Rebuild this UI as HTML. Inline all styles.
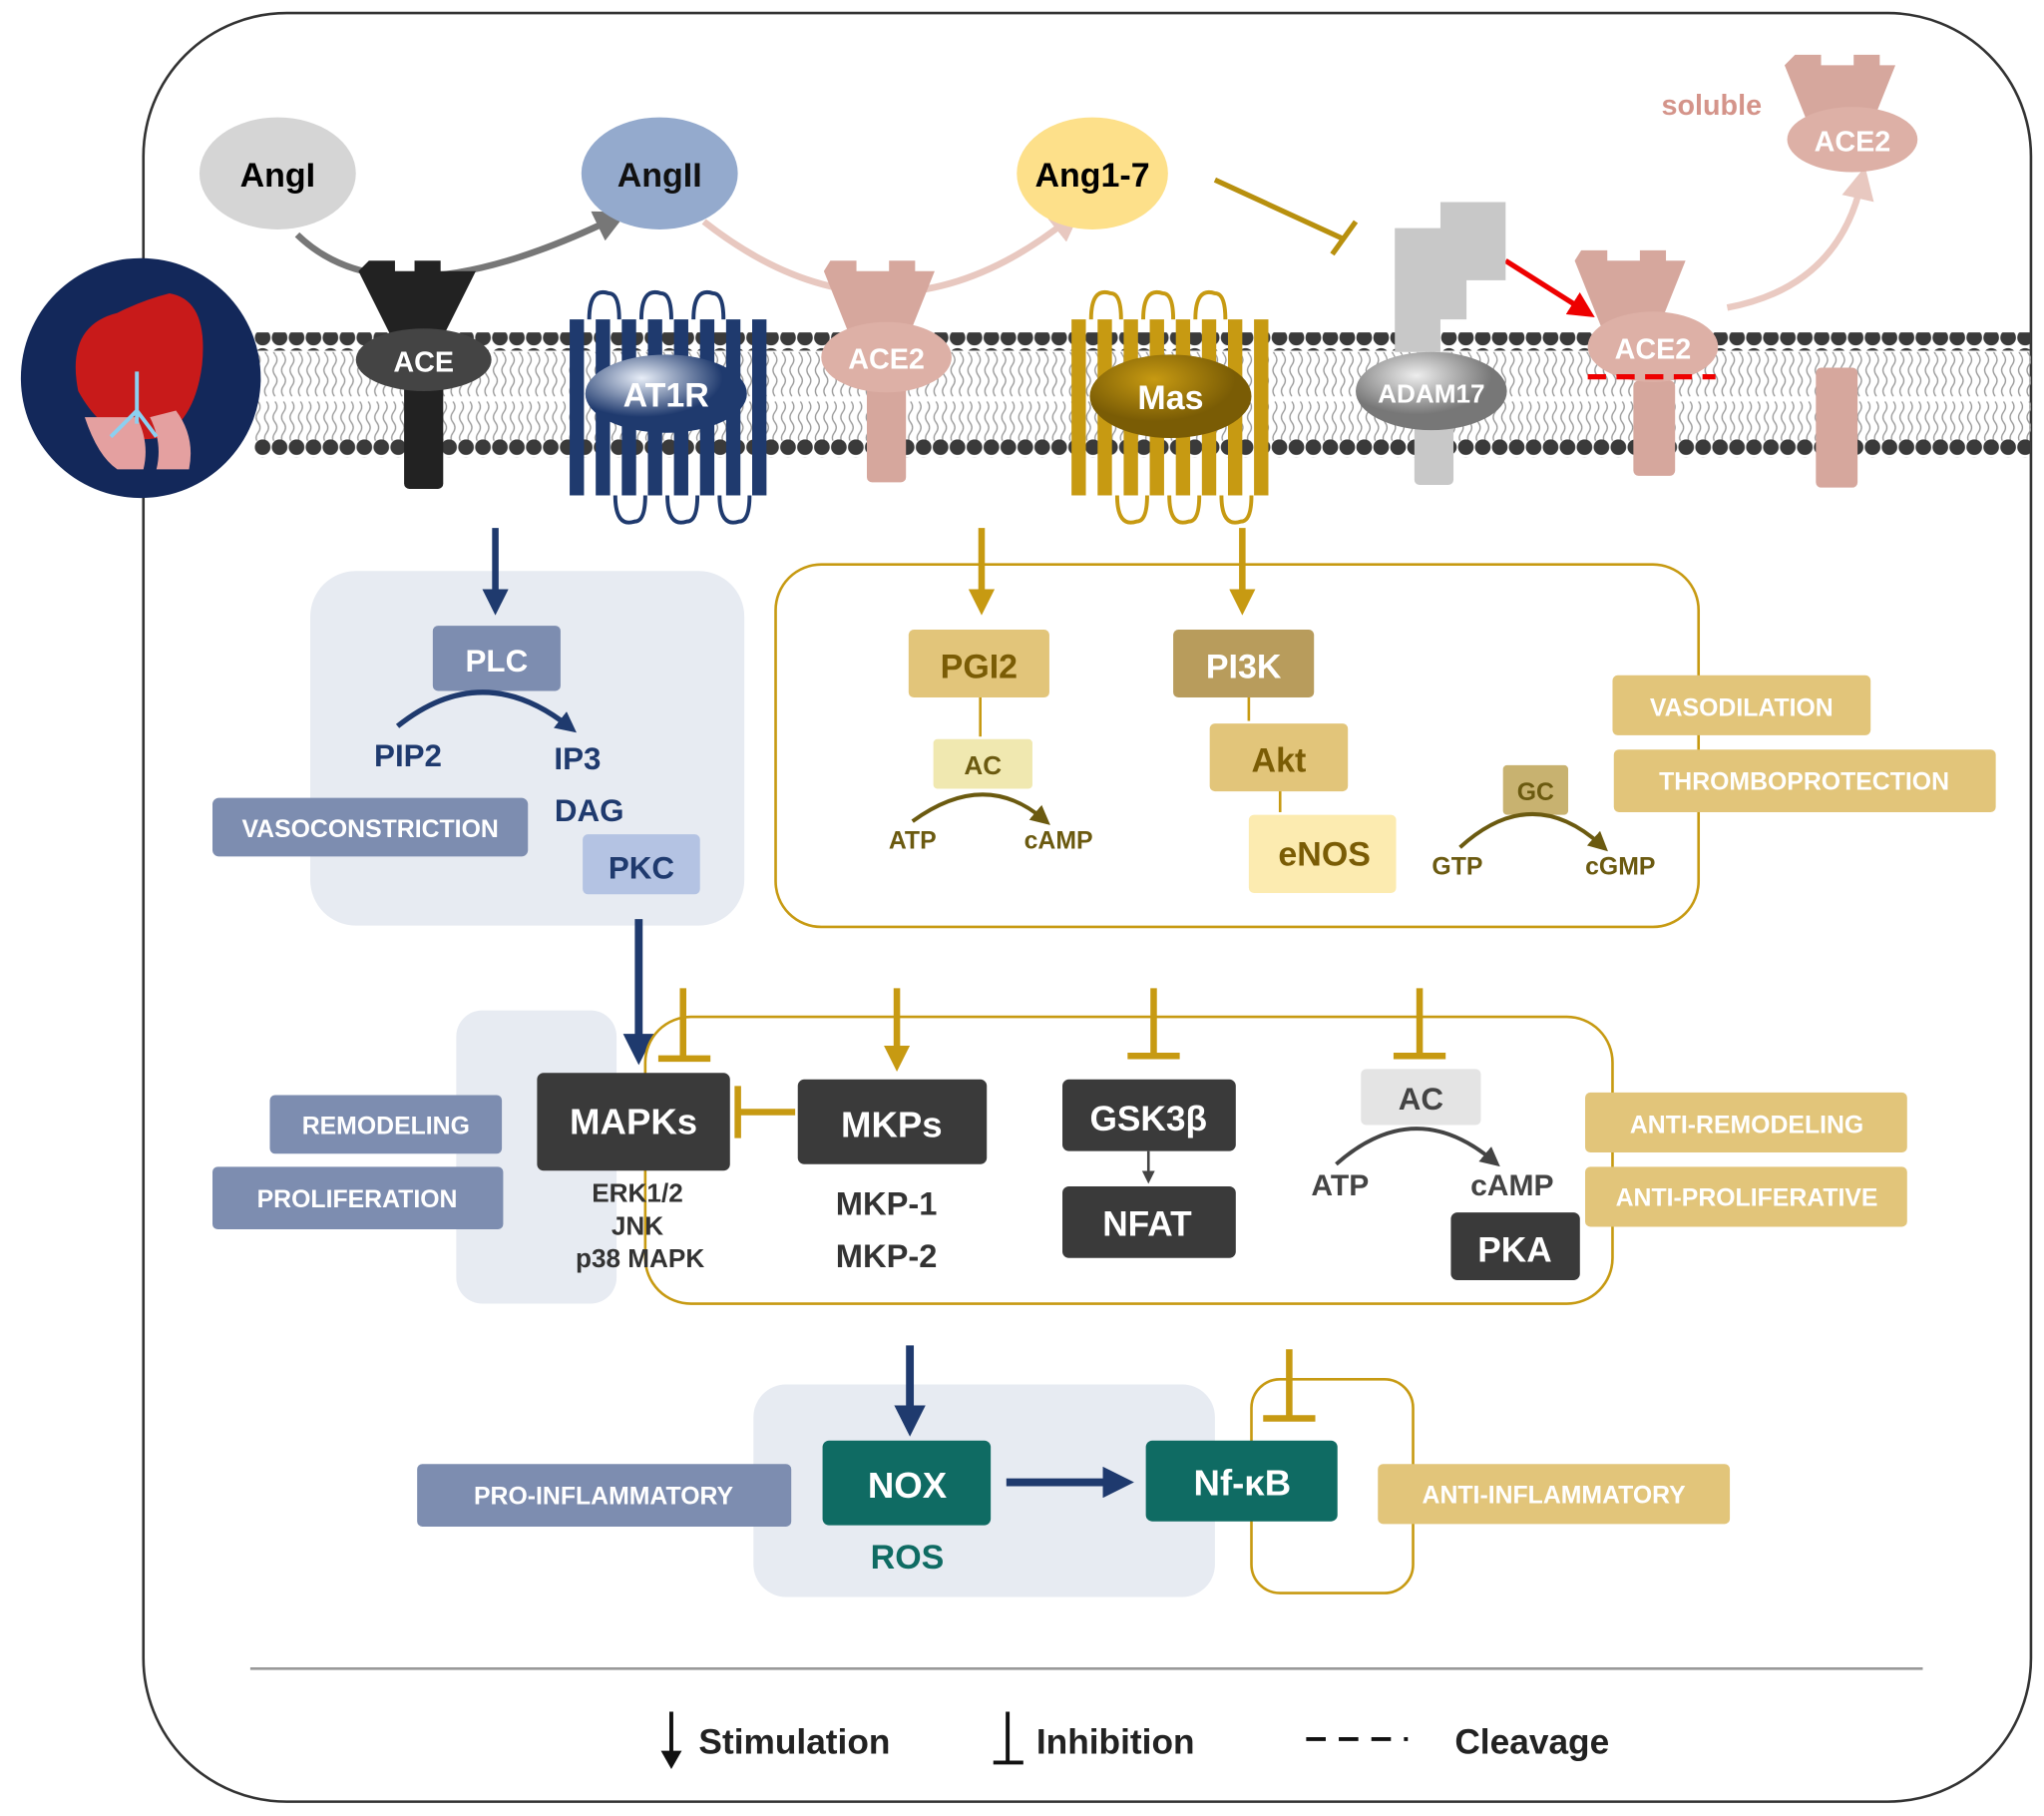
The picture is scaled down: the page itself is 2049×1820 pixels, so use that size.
<!DOCTYPE html>
<html><head><meta charset="utf-8"><style>
html,body{margin:0;padding:0;background:#fff}
svg{display:block}
text{font-family:"Liberation Sans",sans-serif;font-weight:bold}
</style></head><body>
<svg width="2049" height="1820" viewBox="0 0 1568 1393" preserveAspectRatio="none" xmlns="http://www.w3.org/2000/svg">
<defs>
<pattern id="bead" x="0" y="0" width="13" height="14" patternUnits="userSpaceOnUse"><circle cx="6.5" cy="7" r="6" fill="#3a3a3a"/></pattern>
<pattern id="tail" x="0" y="0" width="6.5" height="68" patternUnits="userSpaceOnUse"><path d="M3 0 q3 4 0 8 q-3 4 0 8 q3 4 0 8 q-3 4 0 8 M3 36 q3 4 0 8 q-3 4 0 8 q3 4 0 8 q-3 4 0 8" stroke="#999" stroke-width="1" fill="none"/></pattern>
<marker id="aN" markerWidth="4" markerHeight="4" refX="2" refY="2" orient="auto" markerUnits="strokeWidth"><path d="M0,0 L4,2 L0,4 z" fill="#1f3a6e"/></marker>
<marker id="aG" markerWidth="4" markerHeight="4" refX="2" refY="2" orient="auto" markerUnits="strokeWidth"><path d="M0,0 L4,2 L0,4 z" fill="#c79a12"/></marker>
<marker id="aGr" markerWidth="5" markerHeight="5" refX="2.5" refY="2.5" orient="auto" markerUnits="strokeWidth"><path d="M0,0 L5,2.5 L0,5 z" fill="#777"/></marker>
<marker id="aP" markerWidth="5" markerHeight="5" refX="2.5" refY="2.5" orient="auto" markerUnits="strokeWidth"><path d="M0,0 L5,2.5 L0,5 z" fill="#e8c8c0"/></marker>
<marker id="aR" markerWidth="5" markerHeight="5" refX="2.5" refY="2.5" orient="auto" markerUnits="strokeWidth"><path d="M0,0 L5,2.5 L0,5 z" fill="#e00"/></marker>
<marker id="aO" markerWidth="5" markerHeight="5" refX="2.5" refY="2.5" orient="auto" markerUnits="strokeWidth"><path d="M0,0 L5,2.5 L0,5 z" fill="#6b5a10"/></marker>
<marker id="aK" markerWidth="5" markerHeight="5" refX="2.5" refY="2.5" orient="auto" markerUnits="strokeWidth"><path d="M0,0 L5,2.5 L0,5 z" fill="#444"/></marker>
<radialGradient id="gAT" cx="0.35" cy="0.3"><stop offset="0" stop-color="#e8eef8"/><stop offset="1" stop-color="#1f3a6e"/></radialGradient>
<radialGradient id="gMas" cx="0.4" cy="0.3"><stop offset="0" stop-color="#c79a12"/><stop offset="1" stop-color="#7a5c05"/></radialGradient>
<radialGradient id="gAD" cx="0.4" cy="0.3"><stop offset="0" stop-color="#eee"/><stop offset="1" stop-color="#777"/></radialGradient>
</defs>
<rect width="1568" height="1393" fill="#fff"/>
<rect x="110" y="10" width="1448" height="1372" rx="110" fill="none" stroke="#333" stroke-width="2"/>
<rect x="195" y="255" width="1363" height="14" fill="url(#bead)"/>
<rect x="195" y="270" width="1363" height="68" fill="url(#tail)"/>
<rect x="195" y="337" width="1363" height="14" fill="url(#bead)"/>
<circle cx="108" cy="290" r="92" fill="#13285a"/>
<path d="M60 300 q-10 -50 30 -60 q20 -10 40 -15 q30 5 25 55 q-5 40 -30 55 q-40 10 -65 -35z" fill="#c81a1a"/>
<path d="M65 320 q10 30 25 40 l20 0 q5 -20 -5 -40z M115 320 q10 20 5 40 l25 0 q5 -25 -10 -45z" fill="#e4a0a0"/>
<path d="M105 285 v40 m0 -10 l-20 20 m20 -20 l15 20" stroke="#8cd0f0" stroke-width="3" fill="none"/>
<path d="M228 180 Q300 250 470 168" stroke="#777" stroke-width="5" fill="none" marker-end="url(#aGr)"/>
<path d="M540 170 Q680 280 820 168" stroke="#e8c8c0" stroke-width="5" fill="none" marker-end="url(#aP)"/>
<path d="M932 138 L1030 183 M1022 195 L1040 170" stroke="#b8900e" stroke-width="4" fill="none"/>
<path d="M1155 200 L1215 238" stroke="#e00" stroke-width="4" fill="none" marker-end="url(#aR)"/>
<path d="M1325 236 Q1410 220 1428 140" stroke="#eacac2" stroke-width="5" fill="none" marker-end="url(#aP)"/>
<ellipse cx="213" cy="133" rx="60" ry="43" fill="#d5d5d5"/><text x="213" y="143" font-size="26" text-anchor="middle">AngI</text>
<ellipse cx="506" cy="133" rx="60" ry="43" fill="#94aacd"/><text x="506" y="143" font-size="26" text-anchor="middle" fill="#111">AngII</text>
<ellipse cx="838" cy="133" rx="58" ry="43" fill="#fde08a"/><text x="838" y="143" font-size="26" text-anchor="middle">Ang1-7</text>
<text x="1313" y="88" font-size="22" fill="#d4948a" text-anchor="middle">soluble</text>
<path d="M283 200 h20 v8 h15 v-8 h20 v8 h27 l-25 50 h-40 l-25 -50 z" fill="#222"/>
<rect x="310" y="250" width="30" height="125" rx="4" fill="#222"/>
<ellipse cx="325" cy="276" rx="52" ry="24" fill="#444"/><text x="325" y="285" font-size="22" text-anchor="middle" fill="#fff">ACE</text>
<g fill="#1f3a6e">
<rect x="437" y="245" width="11" height="135"/><rect x="457" y="245" width="11" height="135"/><rect x="477" y="245" width="11" height="135"/><rect x="497" y="245" width="11" height="135"/><rect x="517" y="245" width="11" height="135"/><rect x="537" y="245" width="11" height="135"/><rect x="557" y="245" width="11" height="135"/><rect x="577" y="245" width="11" height="135"/>
</g>
<path d="M452 245 q0 -25 15 -20 q8 0 8 20 M492 245 q0 -25 15 -20 q8 0 8 20 M532 245 q0 -25 15 -20 q8 0 8 20 M472 380 q0 25 15 20 q8 0 8 -20 M512 380 q0 25 15 20 q8 0 8 -20 M552 380 q0 25 15 20 q8 0 8 -20" stroke="#1f3a6e" stroke-width="3" fill="none"/>
<ellipse cx="511" cy="302" rx="62" ry="30" fill="url(#gAT)"/><text x="511" y="312" font-size="26" text-anchor="middle" fill="#fff">AT1R</text>
<path d="M640 200 h20 v8 h25 v-8 h20 v8 h15 l-20 50 h-45 l-20 -50 z" fill="#d6a79d" transform="translate(-3,0)"/>
<rect x="665" y="250" width="30" height="120" rx="4" fill="#d6a79d"/>
<ellipse cx="680" cy="274" rx="50" ry="27" fill="#ddb0a6"/><text x="680" y="283" font-size="22" text-anchor="middle" fill="#fff">ACE2</text>
<g fill="#c79a12">
<rect x="822" y="245" width="11" height="135"/><rect x="842" y="245" width="11" height="135"/><rect x="862" y="245" width="11" height="135"/><rect x="882" y="245" width="11" height="135"/><rect x="902" y="245" width="11" height="135"/><rect x="922" y="245" width="11" height="135"/><rect x="942" y="245" width="11" height="135"/><rect x="962" y="245" width="11" height="135"/>
</g>
<path d="M837 245 q0 -25 15 -20 q8 0 8 20 M877 245 q0 -25 15 -20 q8 0 8 20 M917 245 q0 -25 15 -20 q8 0 8 20 M857 380 q0 25 15 20 q8 0 8 -20 M897 380 q0 25 15 20 q8 0 8 -20 M937 380 q0 25 15 20 q8 0 8 -20" stroke="#c79a12" stroke-width="3" fill="none"/>
<ellipse cx="898" cy="304" rx="62" ry="32" fill="url(#gMas)"/><text x="898" y="314" font-size="26" text-anchor="middle" fill="#fff">Mas</text>
<path d="M1070 175 h35 v-20 h50 v60 h-30 v30 h-20 v25 h-35 z" fill="#c8c8c8"/>
<rect x="1085" y="270" width="30" height="102" rx="4" fill="#c8c8c8"/>
<ellipse cx="1098" cy="300" rx="58" ry="30" fill="url(#gAD)"/><text x="1098" y="309" font-size="20" text-anchor="middle" fill="#fff">ADAM17</text>
<path d="M1225 192 h20 v8 h25 v-8 h20 v8 h15 l-20 50 h-45 l-20 -50 z" fill="#d6a79d" transform="translate(-12,0)"/>
<rect x="1253" y="292" width="32" height="73" rx="4" fill="#d6a79d"/>
<ellipse cx="1268" cy="266" rx="50" ry="27" fill="#ddb0a6"/><text x="1268" y="275" font-size="22" text-anchor="middle" fill="#fff">ACE2</text>
<path d="M1218 289 h98" stroke="#e00" stroke-width="4" stroke-dasharray="14,8"/>
<rect x="1393" y="282" width="32" height="92" rx="4" fill="#d6a79d"/>
<path d="M1380 45 h20 v8 h25 v-8 h20 v8 h12 l-20 50 h-45 l-20 -50 z" fill="#d6a79d" transform="translate(-3,-3)"/>
<ellipse cx="1421" cy="107" rx="50" ry="25" fill="#ddb0a6"/><text x="1421" y="116" font-size="22" text-anchor="middle" fill="#fff">ACE2</text>

<rect x="238" y="438" width="333" height="272" rx="35" fill="#e7ebf2"/>
<path d="M380 405 V462" stroke="#1f3a6e" stroke-width="5" marker-end="url(#aN)"/>
<rect x="332" y="480" width="98" height="50" rx="4" fill="#7d8db0"/><text x="381" y="515" font-size="24" text-anchor="middle" fill="#fff">PLC</text>
<path d="M305 557 Q370 505 436 557" stroke="#1f3a6e" stroke-width="4" fill="none" marker-end="url(#aN)"/>
<text x="313" y="588" font-size="24" fill="#1f3a6e" text-anchor="middle">PIP2</text>
<text x="443" y="590" font-size="24" fill="#1f3a6e" text-anchor="middle">IP3</text>
<text x="452" y="630" font-size="24" fill="#1f3a6e" text-anchor="middle">DAG</text>
<rect x="163" y="612" width="242" height="45" rx="5" fill="#7d8db0"/><text x="284" y="642" font-size="19" text-anchor="middle" fill="#fff">VASOCONSTRICTION</text>
<rect x="447" y="640" width="90" height="46" rx="4" fill="#b4c3e3"/><text x="492" y="674" font-size="24" text-anchor="middle" fill="#1f3a6e">PKC</text>
<path d="M490 705 V805" stroke="#1f3a6e" stroke-width="6" marker-end="url(#aN)"/>

<rect x="595" y="433" width="708" height="278" rx="35" fill="none" stroke="#c79a12" stroke-width="2"/>
<path d="M753 405 V462" stroke="#c79a12" stroke-width="5" marker-end="url(#aG)"/>
<path d="M953 405 V462" stroke="#c79a12" stroke-width="5" marker-end="url(#aG)"/>
<rect x="697" y="483" width="108" height="52" rx="4" fill="#e2c57a"/><text x="751" y="520" font-size="26" text-anchor="middle" fill="#7a5c05">PGI2</text>
<rect x="900" y="483" width="108" height="52" rx="4" fill="#b89c5c"/><text x="954" y="520" font-size="26" text-anchor="middle" fill="#fff">PI3K</text>
<path d="M752 535 V565" stroke="#c79a12" stroke-width="2"/>
<rect x="716" y="567" width="76" height="38" rx="3" fill="#f0e8b0"/><text x="754" y="594" font-size="20" text-anchor="middle" fill="#6b5a10">AC</text>
<path d="M700 630 Q755 590 800 628" stroke="#6b5a10" stroke-width="3" fill="none" marker-end="url(#aO)"/>
<text x="700" y="651" font-size="19" text-anchor="middle" fill="#6b5a10">ATP</text><text x="812" y="651" font-size="19" text-anchor="middle" fill="#6b5a10">cAMP</text>
<path d="M958 535 V553" stroke="#c79a12" stroke-width="2"/>
<rect x="928" y="555" width="106" height="52" rx="4" fill="#e2c57a"/><text x="981" y="592" font-size="26" text-anchor="middle" fill="#7a5c05">Akt</text>
<path d="M982 607 V623" stroke="#c79a12" stroke-width="2"/>
<rect x="958" y="625" width="113" height="60" rx="4" fill="#fcebb0"/><text x="1016" y="664" font-size="26" text-anchor="middle" fill="#7a5c05">eNOS</text>
<rect x="1153" y="587" width="50" height="38" rx="3" fill="#c8b270"/><text x="1178" y="614" font-size="19" text-anchor="middle" fill="#6b5a10">GC</text>
<path d="M1120 650 Q1175 600 1228 648" stroke="#6b5a10" stroke-width="3" fill="none" marker-end="url(#aO)"/>
<text x="1118" y="671" font-size="19" text-anchor="middle" fill="#6b5a10">GTP</text><text x="1243" y="671" font-size="19" text-anchor="middle" fill="#6b5a10">cGMP</text>
<rect x="1237" y="518" width="198" height="46" rx="4" fill="#e2c57a"/><text x="1336" y="549" font-size="19" text-anchor="middle" fill="#fff">VASODILATION</text>
<rect x="1238" y="575" width="293" height="48" rx="4" fill="#e2c57a"/><text x="1384" y="606" font-size="19" text-anchor="middle" fill="#fff">THROMBOPROTECTION</text>

<rect x="350" y="775" width="123" height="225" rx="20" fill="#e7ebf2"/>
<rect x="495" y="780" width="742" height="220" rx="35" fill="none" stroke="#c79a12" stroke-width="2"/>
<rect x="412" y="823" width="148" height="75" rx="5" fill="#3a3a3a"/><text x="486" y="870" font-size="28" text-anchor="middle" fill="#fff">MAPKs</text>
<text x="489" y="922" font-size="20" text-anchor="middle" fill="#333" font-weight="normal">ERK1/2</text>
<text x="489" y="947" font-size="20" text-anchor="middle" fill="#333" font-weight="normal">JNK</text>
<text x="491" y="972" font-size="20" text-anchor="middle" fill="#333" font-weight="normal">p38 MAPK</text>
<g stroke="#c79a12" stroke-width="5" fill="none">
<path d="M524 758 V812 M505 812 H545"/>
<path d="M885 758 V810 M865 810 H905"/>
<path d="M1089 758 V810 M1069 810 H1109"/>
<path d="M610 853 H566 M566 833 V873"/>
<path d="M989 1035 V1088 M969 1088 H1009"/>
</g>
<path d="M688 758 V812" stroke="#c79a12" stroke-width="5" marker-end="url(#aG)"/>
<rect x="612" y="828" width="145" height="65" rx="5" fill="#3a3a3a"/><text x="684" y="872" font-size="28" text-anchor="middle" fill="#fff">MKPs</text>
<text x="680" y="932" font-size="25" text-anchor="middle" fill="#333">MKP-1</text>
<text x="680" y="972" font-size="25" text-anchor="middle" fill="#333">MKP-2</text>
<rect x="815" y="828" width="133" height="55" rx="5" fill="#3a3a3a"/><text x="881" y="867" font-size="27" text-anchor="middle" fill="#fff">GSK3β</text>
<path d="M881 883 V903" stroke="#444" stroke-width="2" marker-end="url(#aK)"/>
<rect x="815" y="910" width="133" height="55" rx="5" fill="#3a3a3a"/><text x="880" y="948" font-size="27" text-anchor="middle" fill="#fff">NFAT</text>
<rect x="1044" y="820" width="92" height="43" rx="4" fill="#e4e4e4"/><text x="1090" y="851" font-size="24" text-anchor="middle" fill="#444">AC</text>
<path d="M1025 893 Q1085 840 1145 890" stroke="#444" stroke-width="3" fill="none" marker-end="url(#aK)"/>
<text x="1028" y="917" font-size="23" text-anchor="middle" fill="#444">ATP</text><text x="1160" y="917" font-size="23" text-anchor="middle" fill="#444">cAMP</text>
<rect x="1113" y="930" width="99" height="52" rx="5" fill="#3a3a3a"/><text x="1162" y="968" font-size="27" text-anchor="middle" fill="#fff">PKA</text>
<rect x="207" y="840" width="178" height="45" rx="4" fill="#7d8db0"/><text x="296" y="870" font-size="19" text-anchor="middle" fill="#fff">REMODELING</text>
<rect x="163" y="895" width="223" height="48" rx="4" fill="#7d8db0"/><text x="274" y="926" font-size="19" text-anchor="middle" fill="#fff">PROLIFERATION</text>
<rect x="1216" y="838" width="247" height="46" rx="4" fill="#e2c57a"/><text x="1340" y="869" font-size="19" text-anchor="middle" fill="#fff">ANTI-REMODELING</text>
<rect x="1216" y="895" width="247" height="46" rx="4" fill="#e2c57a"/><text x="1340" y="925" font-size="19" text-anchor="middle" fill="#fff">ANTI-PROLIFERATIVE</text>

<rect x="578" y="1062" width="354" height="163" rx="25" fill="#e7ebf2"/>
<rect x="960" y="1058" width="124" height="164" rx="22" fill="none" stroke="#c79a12" stroke-width="2"/>
<path d="M698 1032 V1090" stroke="#1f3a6e" stroke-width="6" marker-end="url(#aN)"/>
<rect x="631" y="1105" width="129" height="65" rx="5" fill="#0f6b63"/><text x="696" y="1149" font-size="28" text-anchor="middle" fill="#fff">NOX</text>
<text x="696" y="1203" font-size="26" text-anchor="middle" fill="#0f6b63">ROS</text>
<path d="M772 1137 H858" stroke="#1f3a6e" stroke-width="6" marker-end="url(#aN)"/>
<rect x="879" y="1105" width="147" height="62" rx="5" fill="#0f6b63"/><text x="953" y="1147" font-size="28" text-anchor="middle" fill="#fff">Nf-κB</text>
<rect x="320" y="1123" width="287" height="48" rx="4" fill="#7d8db0"/><text x="463" y="1154" font-size="19" text-anchor="middle" fill="#fff">PRO-INFLAMMATORY</text>
<rect x="1057" y="1123" width="270" height="46" rx="4" fill="#e2c57a"/><text x="1192" y="1153" font-size="19" text-anchor="middle" fill="#fff">ANTI-INFLAMMATORY</text>

<path d="M192 1280 H1475" stroke="#999" stroke-width="2"/>
<path d="M515 1313 V1350" stroke="#111" stroke-width="3"/><path d="M507 1343 L515 1357 L523 1343z" fill="#111"/>
<text x="536" y="1345" font-size="27" font-weight="normal" fill="#222">Stimulation</text>
<path d="M773 1313 V1352 M762 1352 H785" stroke="#111" stroke-width="3"/>
<text x="795" y="1345" font-size="27" font-weight="normal" fill="#222">Inhibition</text>
<path d="M1002 1334 H1080" stroke="#111" stroke-width="3" stroke-dasharray="15,10"/>
<text x="1116" y="1345" font-size="27" font-weight="normal" fill="#222">Cleavage</text>
</svg>
</body></html>
